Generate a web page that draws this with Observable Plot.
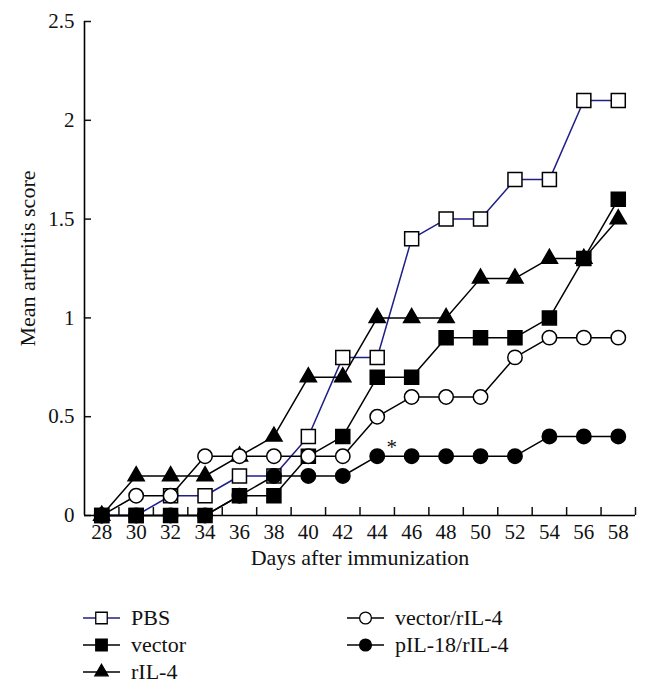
<!DOCTYPE html>
<html>
<head>
<meta charset="utf-8">
<script src="https://cdn.jsdelivr.net/npm/d3@7"></script>
<script src="https://cdn.jsdelivr.net/npm/@observablehq/plot@0.6"></script>
<style>
  html, body { margin: 0; padding: 0; background: #fff; }
  #wrap { position: relative; width: 650px; height: 692px; font-family: "Liberation Serif", "DejaVu Serif", serif; }
  #legend .item { position: absolute; display: flex; align-items: center; font-size: 22px; color: #111; height: 26px; }
  #legend svg { margin-right: 11px; overflow: visible; }
</style>
</head>
<body>
<div id="wrap">
  <div id="chart"></div>
  <div id="legend"></div>
</div>
<script>
// ---- data ----
const days = [28, 30, 32, 34, 36, 38, 40, 42, 44, 46, 48, 50, 52, 54, 56, 58];
const pbs        = [0, 0,   0.1, 0.1, 0.2, 0.2, 0.4, 0.8, 0.8, 1.4, 1.5, 1.5, 1.7, 1.7, 2.1, 2.1];
const vector     = [0, 0,   0,   0,   0.1, 0.1, 0.3, 0.4, 0.7, 0.7, 0.9, 0.9, 0.9, 1.0, 1.3, 1.6];
const rIL4       = [0, 0.2, 0.2, 0.2, 0.3, 0.4, 0.7, 0.7, 1.0, 1.0, 1.0, 1.2, 1.2, 1.3, 1.3, 1.5];
const vectorRIL4 = [0, 0.1, 0.1, 0.3, 0.3, 0.3, 0.3, 0.3, 0.5, 0.6, 0.6, 0.6, 0.8, 0.9, 0.9, 0.9];
const pIL18RIL4  = [0, 0,   0,   0,   0.1, 0.2, 0.2, 0.2, 0.3, 0.3, 0.3, 0.3, 0.3, 0.4, 0.4, 0.4];
const seriesNames = ["PBS", "vector", "rIL-4", "vector/rIL-4", "pIL-18/rIL-4"];
const yTicks = [0, 0.5, 1, 1.5, 2, 2.5];
const xLabelTicks = [28, 30, 32, 34, 36, 38, 40, 42, 44, 46, 48, 50, 52, 54, 56, 58];
const xMinorTicks = [29, 31, 33, 35, 37, 39, 41, 43, 45, 47, 49, 51, 53, 55, 57, 59];
const annotations = [{day: 44.85, score: 0.345, label: "*"}];

// ---- styles per series ----
const styles = {
  "PBS":          {symbol: "square",   fill: "white", line: "#1f1f88", r: 7.9},
  "vector":       {symbol: "square",   fill: "black", line: "black",   r: 7.9},
  "rIL-4":        {symbol: "triangle", fill: "black", line: "black",   r: 6.0},
  "vector/rIL-4": {symbol: "circle",   fill: "white", line: "black",   r: 7.2},
  "pIL-18/rIL-4": {symbol: "circle",   fill: "black", line: "black",   r: 7.2}
};
const allValues = [pbs, vector, rIL4, vectorRIL4, pIL18RIL4];
const rows = seriesNames.flatMap((name, k) => allValues[k].map((v, i) => ({series: name, day: days[i], score: v})));

const marks = [];
for (const name of seriesNames) {
  const s = styles[name];
  const data = rows.filter(d => d.series === name);
  marks.push(Plot.line(data, {x: "day", y: "score", stroke: s.line, strokeWidth: 1.5}));
  marks.push(Plot.dot(data, {x: "day", y: "score", symbol: () => s.symbol, r: s.r, fill: s.fill, stroke: "black", strokeWidth: 1.5}));
}

const chart = Plot.plot({
  width: 650,
  height: 580,
  marginTop: 21,
  marginBottom: 65,
  marginLeft: 84,
  marginRight: 15,
  style: {fontFamily: "'Liberation Serif', 'DejaVu Serif', serif", fontSize: "21px", background: "white", color: "#111", overflow: "visible"},
  x: {domain: [27, 59], label: null},
  y: {domain: [0, 2.5], label: null},
  symbol: {type: "identity"},
  marks: [
    // inward ticks and labels
    Plot.axisY(yTicks, {tickSize: 7, dx: 7, tickFormat: () => "", label: null, strokeWidth: 1.5}),
    Plot.axisY(yTicks, {tickSize: 0, tickPadding: 10, tickFormat: d => String(d), label: null, fontSize: 21}),
    Plot.axisX(xMinorTicks, {tickSize: 8, dy: -8, tickFormat: () => "", label: null, strokeWidth: 1.5}),
    Plot.axisX(xLabelTicks, {tickSize: 0, tickPadding: 9, tickFormat: d => String(d), label: null, fontSize: 21}),
    Plot.ruleX([27], {stroke: "black", strokeWidth: 1.6}),
    Plot.ruleY([0], {stroke: "black", strokeWidth: 1.6}),
    ...marks,
    Plot.text(annotations, {x: "day", y: "score", text: "label", fontSize: 21}),
    Plot.text(["Days after immunization"], {frameAnchor: "bottom", dy: 49, fontSize: 22, textAnchor: "middle"}),
    Plot.text(["Mean arthritis score"], {frameAnchor: "left", dx: -57, dy: -10, rotate: -90, fontSize: 22, textAnchor: "middle"})
  ]
});
document.getElementById("chart").appendChild(chart);

// ---- legend (HTML below the SVG) ----
const legend = document.getElementById("legend");
const legendPos = {
  "PBS":          {left: 83,  top: 605},
  "vector":       {left: 83,  top: 632},
  "rIL-4":        {left: 83,  top: 659},
  "vector/rIL-4": {left: 347, top: 605},
  "pIL-18/rIL-4": {left: 347, top: 632}
};
const ns = "http://www.w3.org/2000/svg";
for (const name of seriesNames) {
  const s = styles[name];
  const p = legendPos[name];
  const item = document.createElement("div");
  item.className = "item";
  item.style.left = p.left + "px";
  item.style.top = p.top + "px";
  const svg = document.createElementNS(ns, "svg");
  svg.setAttribute("width", 37);
  svg.setAttribute("height", 26);
  const ln = document.createElementNS(ns, "line");
  ln.setAttribute("x1", 0); ln.setAttribute("x2", 37);
  ln.setAttribute("y1", 13); ln.setAttribute("y2", 13);
  ln.setAttribute("stroke", s.line); ln.setAttribute("stroke-width", 1.5);
  svg.appendChild(ln);
  const sym = {square: d3.symbolSquare, triangle: d3.symbolTriangle, circle: d3.symbolCircle}[s.symbol];
  const rr = s.r * 0.82;
  const path = document.createElementNS(ns, "path");
  path.setAttribute("d", d3.symbol(sym, Math.PI * rr * rr)());
  path.setAttribute("transform", "translate(18.5,13)");
  path.setAttribute("fill", s.fill);
  path.setAttribute("stroke", "black");
  path.setAttribute("stroke-width", 1.3);
  svg.appendChild(path);
  item.appendChild(svg);
  const t = document.createElement("span");
  t.textContent = name;
  item.appendChild(t);
  legend.appendChild(item);
}
</script>
</body>
</html>
